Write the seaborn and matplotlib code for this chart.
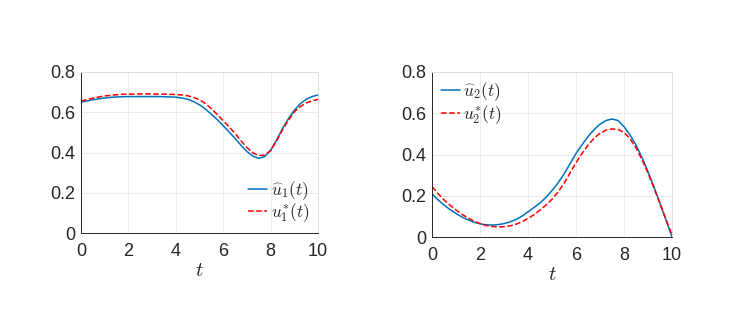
import numpy as np
import pandas as pd
import seaborn as sns
import matplotlib.pyplot as plt

# time grid (step 0.25) and values
t = [0, 0.25, 0.5, 0.75, 1, 1.25, 1.5, 1.75, 2, 2.25, 2.5, 2.75, 3, 3.25, 3.5, 3.75,
     4, 4.25, 4.5, 4.75, 5, 5.25, 5.5, 5.75, 6, 6.25, 6.5, 6.75, 7, 7.25, 7.5, 7.75,
     8, 8.25, 8.5, 8.75, 9, 9.25, 9.5, 9.75, 10]

u1_hat = [0.650, 0.656, 0.662, 0.667, 0.671, 0.674, 0.676, 0.677, 0.678, 0.678, 0.678,
          0.678, 0.678, 0.678, 0.677, 0.676, 0.675, 0.671, 0.665, 0.653, 0.637, 0.616,
          0.590, 0.563, 0.533, 0.502, 0.470, 0.436, 0.405, 0.382, 0.371, 0.380, 0.410,
          0.462, 0.518, 0.568, 0.610, 0.642, 0.664, 0.678, 0.686]
u1_star = [0.655, 0.663, 0.670, 0.676, 0.681, 0.684, 0.687, 0.689, 0.690, 0.690, 0.691,
           0.691, 0.691, 0.690, 0.690, 0.689, 0.688, 0.686, 0.682, 0.674, 0.662, 0.643,
           0.618, 0.589, 0.558, 0.527, 0.495, 0.458, 0.425, 0.398, 0.385, 0.387, 0.410,
           0.457, 0.512, 0.560, 0.602, 0.628, 0.646, 0.657, 0.664]

u2_hat = [0.210, 0.180, 0.155, 0.133, 0.114, 0.097, 0.083, 0.072, 0.064, 0.059, 0.058,
          0.060, 0.065, 0.073, 0.085, 0.101, 0.122, 0.143, 0.165, 0.192, 0.225, 0.262,
          0.305, 0.355, 0.405, 0.447, 0.487, 0.520, 0.547, 0.565, 0.572, 0.565, 0.535,
          0.495, 0.446, 0.385, 0.317, 0.242, 0.163, 0.082, 0.000]
u2_star = [0.245, 0.210, 0.180, 0.154, 0.131, 0.110, 0.092, 0.077, 0.065, 0.056, 0.051,
           0.049, 0.050, 0.054, 0.062, 0.074, 0.090, 0.108, 0.130, 0.155, 0.183, 0.218,
           0.260, 0.310, 0.360, 0.405, 0.445, 0.478, 0.503, 0.518, 0.524, 0.522, 0.507,
           0.477, 0.432, 0.375, 0.310, 0.237, 0.162, 0.085, 0.010]

sns.set_style("whitegrid")
plt.rcParams['font.family'] = ['Liberation Sans', 'DejaVu Sans']
plt.rcParams['mathtext.fontset'] = 'cm'

fig = plt.figure(figsize=(7.36, 3.27), dpi=100)
ax1 = fig.add_axes([81/736, 1-233/327, (318-81)/736, (233-72)/327])
ax2 = fig.add_axes([432/736, 1-237/327, (672-432)/736, (237-72)/327])

d1 = pd.DataFrame({'t': t, 'hat': u1_hat, 'star': u1_star})
d2 = pd.DataFrame({'t': t, 'hat': u2_hat, 'star': u2_star})

for ax, d, k, loc in [(ax1, d1, 1, 'lower right'), (ax2, d2, 2, 'upper left')]:
    sns.lineplot(data=d, x='t', y='hat', ax=ax, color='#0072BD', lw=1.1,
                 label=r'$\widehat{u}_%d(t)$' % k)
    sns.lineplot(data=d, x='t', y='star', ax=ax, color='#FF0000', lw=1.1, ls='--',
                 label=r'$u_%d^{*}(t)$' % k)
    ax.set_xlim(0, 10)
    ax.set_ylim(0, 0.8)
    ax.set_xticks([0, 2, 4, 6, 8, 10])
    ax.set_yticks([0, 0.2, 0.4, 0.6, 0.8])
    ax.set_yticklabels(['0', '0.2', '0.4', '0.6', '0.8'])
    ax.grid(True, color='#ebebeb', lw=0.7)
    ax.tick_params(labelsize=13, colors='#262626', direction='in', length=3)
    ax.tick_params(axis='x', pad=7)
    ax.tick_params(axis='y', pad=4)
    for s in ['left', 'bottom']:
        ax.spines[s].set_color('#262626')
        ax.spines[s].set_linewidth(0.7)
    for s in ['top', 'right']:
        ax.spines[s].set_color('#dcdcdc')
        ax.spines[s].set_linewidth(0.7)
    ax.set_xlabel(r'$t$', fontsize=15, labelpad=1)
    ax.set_ylabel('')
    ax.legend(loc=loc, frameon=False, fontsize=12.5, handlelength=1.1,
              handletextpad=0.2, labelspacing=0.0, borderaxespad=0.1)

fig.savefig('out.png', dpi=100, facecolor='white')
